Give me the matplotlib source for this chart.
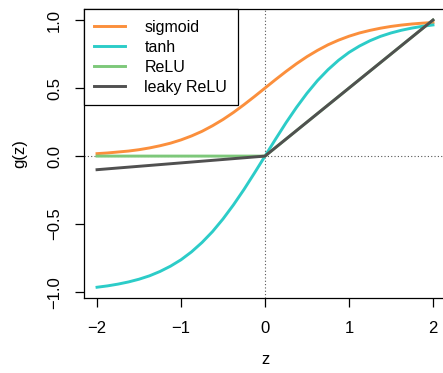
import numpy as np
import matplotlib
matplotlib.use("Agg")
import matplotlib.pyplot as plt

plt.rcParams['font.family'] = ['Liberation Sans', 'DejaVu Sans']

# curve values, z in steps of 0.125
z = [-2.0, -1.875, -1.75, -1.625, -1.5, -1.375, -1.25, -1.125, -1.0,
     -0.875, -0.75, -0.625, -0.5, -0.375, -0.25, -0.125, 0.0,
     0.125, 0.25, 0.375, 0.5, 0.625, 0.75, 0.875, 1.0,
     1.125, 1.25, 1.375, 1.5, 1.625, 1.75, 1.875, 2.0]
sigmoid = [0.018, 0.023, 0.030, 0.037, 0.047, 0.060, 0.076, 0.095, 0.119,
           0.148, 0.182, 0.223, 0.269, 0.321, 0.378, 0.438, 0.500,
           0.562, 0.622, 0.679, 0.731, 0.777, 0.818, 0.852, 0.881,
           0.905, 0.924, 0.940, 0.953, 0.963, 0.971, 0.977, 0.982]
tanh = [-0.964, -0.954, -0.941, -0.925, -0.905, -0.880, -0.848, -0.809, -0.762,
        -0.704, -0.635, -0.555, -0.462, -0.358, -0.245, -0.124, 0.000,
        0.124, 0.245, 0.358, 0.462, 0.555, 0.635, 0.704, 0.762,
        0.809, 0.848, 0.880, 0.905, 0.925, 0.941, 0.954, 0.964]
z_lin = [-2.0, 0.0, 2.0]
relu = [0.0, 0.0, 1.0]
leaky = [-0.1, 0.0, 1.0]

xticks = [-2, -1, 0, 1, 2]
yticks = [-1.0, -0.5, 0.0, 0.5, 1.0]

fig = plt.figure(figsize=(4.43, 3.73), dpi=100)
ax = fig.add_axes([0.1887, 0.2011, 0.819, 0.774])

ax.axvline(0, ls=(0, (1, 2)), color='#555555', lw=0.8)
ax.axhline(0, ls=(0, (1, 2)), color='#555555', lw=0.8)

ax.plot(z, sigmoid, color='#FB8F3C', lw=2.1, label='sigmoid')
ax.plot(z, tanh, color='#2CCCC8', lw=2.1, label='tanh')
ax.plot(z_lin, relu, color='#7DC87A', lw=2.1, label='ReLU')
ax.plot(z_lin, leaky, color='#505050', lw=2.1, label='leaky ReLU')

ax.set_xlim(-2.16, 2.16)
ax.set_ylim(-1.043, 1.079)
ax.set_xticks(xticks)
ax.set_xticklabels(['\u22122', '\u22121', '0', '1', '2'])
ax.set_yticks(yticks)
ax.set_yticklabels(['\u22121.0', '\u22120.5', '0.0', '0.5', '1.0'],
                   rotation=90, va='center')
ax.tick_params(axis='x', length=6.5, width=0.9, pad=10, labelsize=12)
ax.tick_params(axis='y', length=6.5, width=0.9, pad=9, labelsize=12)
for s in ax.spines.values():
    s.set_linewidth(0.9)

fig.text(0.045, 0.587, 'g(z)', rotation=90, ha='center', va='center', fontsize=12)
fig.text(0.60, 0.016, 'z', ha='center', va='bottom', fontsize=12)

leg = ax.legend(loc='upper left', bbox_to_anchor=(0, 1), borderaxespad=0,
                fancybox=False, edgecolor='black', fontsize=11.5,
                handlelength=1.95, handletextpad=1.2, labelspacing=0.32,
                borderpad=0.65, framealpha=1)
leg.get_frame().set_linewidth(0.9)

fig.savefig('out.png', dpi=100)
